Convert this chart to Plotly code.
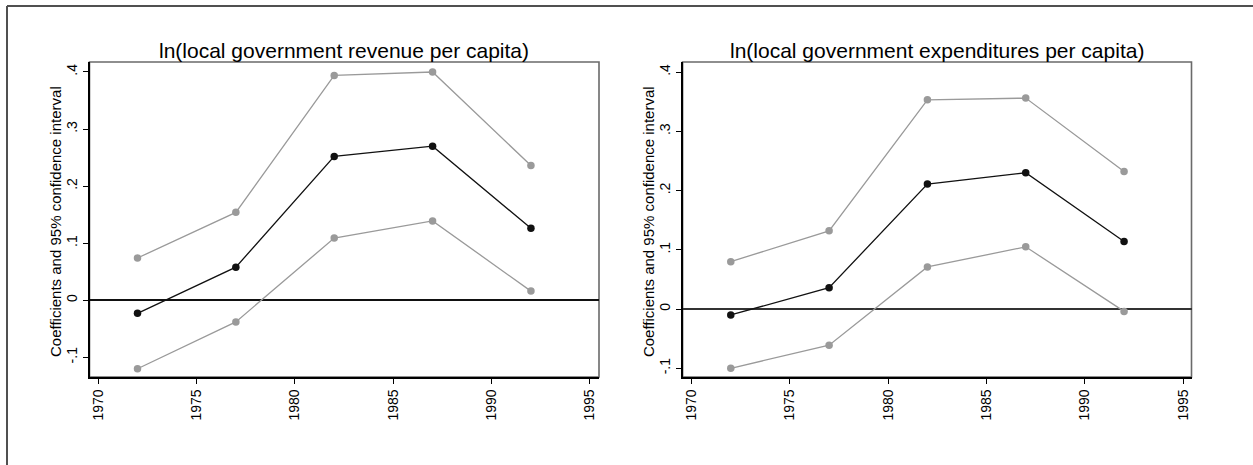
import plotly.graph_objects as go

W, H = 1253, 465

years = [1972, 1977, 1982, 1987, 1992]

# ln(local government revenue per capita)
rev_coef = [-0.023, 0.058, 0.252, 0.270, 0.126]
rev_upper = [0.074, 0.154, 0.394, 0.400, 0.236]
rev_lower = [-0.120, -0.038, 0.109, 0.139, 0.016]

# ln(local government expenditures per capita)
exp_coef = [-0.010, 0.036, 0.211, 0.230, 0.114]
exp_upper = [0.080, 0.132, 0.353, 0.356, 0.232]
exp_lower = [-0.100, -0.061, 0.071, 0.105, -0.004]

titles = ["ln(local government revenue per capita)",
          "ln(local government expenditures per capita)"]
ytitle = "Coefficients and 95% confidence interval"

x_ticks = [1970, 1975, 1980, 1985, 1990, 1995]
x_ticktext = ["1970", "1975", "1980", "1985", "1990", "1995"]
y_ticks = [-0.1, 0, 0.1, 0.2, 0.3, 0.4]
y_ticktext = ["-.1", "0", ".1", ".2", ".3", ".4"]

CI_COLOR = "#9a9a9a"
COEF_COLOR = "#111111"
FONT = "Liberation Sans, Arial, sans-serif"


def px_x(p):
    return p / W


def px_y(p):
    return 1 - p / H


# panel geometry in pixels: (left, right, top, bottom) and data ranges
panels = [
    dict(x0=89.5, x1=599.0, y0=62.0, y1=377.0, xr=[1969.56, 1995.46], yr=[-0.1345, 0.4175],
         zc="#111111", zw=1.6),
    dict(x0=682.6, x1=1191.5, y0=62.0, y1=377.0, xr=[1969.55, 1995.43], yr=[-0.1147, 0.4169],
         zc="#333333", zw=2.0),
]

series = [
    (rev_coef, rev_upper, rev_lower),
    (exp_coef, exp_upper, exp_lower),
]

fig = go.Figure()
shapes = []
annotations = []

for i, (p, (coef, up, lo)) in enumerate(zip(panels, series)):
    sfx = "" if i == 0 else str(i + 1)
    xa, ya = "x" + sfx, "y" + sfx
    for vals, col in [(up, CI_COLOR), (lo, CI_COLOR), (coef, COEF_COLOR)]:
        fig.add_trace(go.Scatter(
            x=years, y=vals, mode="lines+markers",
            line=dict(color=col, width=1.3),
            marker=dict(color=col, size=7.5),
            xaxis=xa, yaxis=ya, showlegend=False, cliponaxis=False,
        ))
    axis_common = dict(showgrid=False, ticks="outside", ticklen=5, tickwidth=1.2,
                       tickcolor="#000", showline=True, linecolor="#000", linewidth=1.6,
                       tickfont=dict(family=FONT, size=14, color="#000"), tickangle=-90)
    fig.update_layout({
        "xaxis" + sfx: dict(axis_common, domain=[px_x(p["x0"]), px_x(p["x1"])],
                            range=p["xr"], tickvals=x_ticks, ticktext=x_ticktext,
                            zeroline=False, anchor=ya),
        "yaxis" + sfx: dict(axis_common, domain=[px_y(p["y1"]), px_y(p["y0"])],
                            range=p["yr"], tickvals=y_ticks, ticktext=y_ticktext,
                            zeroline=True, zerolinecolor=p["zc"], zerolinewidth=p["zw"],
                            anchor=xa),
    })
    # light frame on the top and right of each panel
    shapes.append(dict(type="rect", xref="paper", yref="paper",
                       x0=px_x(p["x0"]), x1=px_x(p["x1"]),
                       y0=px_y(p["y1"]), y1=px_y(p["y0"]),
                       line=dict(color="#6a6a6a", width=1.6), layer="below"))
    annotations.append(dict(text=titles[i], xref="paper", yref="paper",
                            x=px_x((p["x0"] + p["x1"]) / 2), y=px_y(50),
                            xanchor="center", yanchor="middle", showarrow=False,
                            font=dict(family=FONT, size=21, color="#000")))
    annotations.append(dict(text=ytitle, xref="paper", yref="paper",
                            x=px_x(p["x0"] - 34), y=px_y((p["y0"] + p["y1"]) / 2 + 2),
                            xanchor="center", yanchor="middle", showarrow=False,
                            textangle=-90,
                            font=dict(family=FONT, size=15, color="#000")))

# outer border on the left and top
shapes.append(dict(type="line", xref="paper", yref="paper",
                   x0=px_x(7), x1=px_x(7), y0=px_y(6), y1=0,
                   line=dict(color="#505050", width=2)))
shapes.append(dict(type="line", xref="paper", yref="paper",
                   x0=px_x(7), x1=1, y0=px_y(6), y1=px_y(6),
                   line=dict(color="#505050", width=2)))

fig.update_layout(
    width=W, height=H, margin=dict(l=0, r=0, t=0, b=0),
    paper_bgcolor="white", plot_bgcolor="white",
    shapes=shapes, annotations=annotations,
    font=dict(family=FONT),
)

fig.write_html("out.html")
